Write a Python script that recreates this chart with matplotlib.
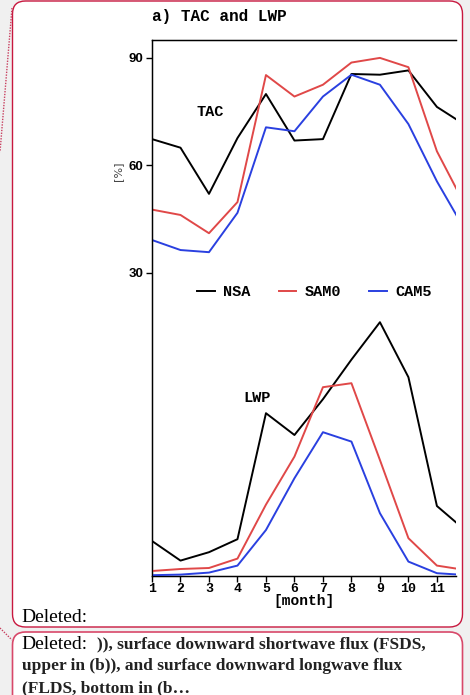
import matplotlib
matplotlib.use("Agg")
import matplotlib.pyplot as plt
from matplotlib.patches import FancyBboxPatch
from matplotlib.lines import Line2D

# ---------------- data ----------------
months = [1, 2, 3, 4, 5, 6, 7, 8, 9, 10, 11, 12]
month_ticks = [1, 2, 3, 4, 5, 6, 7, 8, 9, 10, 11]
tac_ticks = [30, 60, 90]

tac_nsa = [67.3, 64.9, 52.0, 67.6, 79.9, 66.9, 67.3, 85.5, 85.3, 86.5, 76.3, 71.2]
tac_samo = [47.6, 46.1, 41.0, 49.7, 85.2, 79.2, 82.5, 88.7, 90.0, 87.4, 63.9, 48.6]
tac_cam5 = [39.1, 36.3, 35.7, 46.7, 70.6, 69.5, 79.2, 85.3, 82.5, 71.5, 55.5, 41.7]

lwp_nsa = [17.5, 7.7, 11.9, 18.4, 81.4, 70.5, 88.4, 108.2, 126.9, 99.4, 35.0, 22.8]
lwp_samo = [2.5, 3.5, 4.0, 8.7, 35.7, 59.7, 94.4, 96.4, 58.0, 18.9, 5.2, 3.0]
lwp_cam5 = [0.4, 0.7, 1.7, 5.2, 23.0, 48.9, 71.9, 67.2, 31.4, 7.2, 1.4, 0.5]

series_names = ["NSA", "SAM0", "CAM5"]
series_colors = ["#000000", "#e04848", "#2a40e0"]

# ---------------- figure ----------------
W, H = 470, 695
fig = plt.figure(figsize=(W / 100, H / 100), dpi=100)
fig.patch.set_facecolor("#f0f0f0")

# background layer in pixel coordinates
bg = fig.add_axes([0, 0, 1, 1], zorder=-5)
bg.set_xlim(0, W)
bg.set_ylim(H, 0)
bg.axis("off")

border = "#c8183f"
box1 = FancyBboxPatch((12.5, 1), 450, 626, boxstyle="round,pad=0,rounding_size=13",
                      fc="white", ec=border, lw=1.0)
box2 = FancyBboxPatch((12.5, 632), 450, 90, boxstyle="round,pad=0,rounding_size=13",
                      fc="white", ec="#d8486a", lw=1.2)
bg.add_patch(box1)
bg.add_patch(box2)
bg.plot([12, 0], [8, 152], ls=(0, (1, 1)), color="#c84060", lw=1.0)
bg.plot([0, 12], [628, 640], ls=(0, (1, 1)), color="#c84060", lw=1.0)

bg.text(21.5, 617, "Deleted:", fontsize=14, family="Liberation Serif",
        va="center", ha="left", color="black")
bg.text(21.5, 644.5, "Deleted:", fontsize=14, family="Liberation Serif",
        va="center", ha="left", color="black")
bg.text(97, 644.5, ")), surface downward shortwave flux (FSDS,", fontsize=12.5,
        family="Liberation Serif", weight="bold", va="center", ha="left", color="#222222")
bg.text(21.5, 666.5, "upper in (b)), and surface downward longwave flux", fontsize=12.5,
        family="Liberation Serif", weight="bold", va="center", ha="left", color="#222222")
bg.text(21.5, 688, "(FLDS, bottom in (b\u2026", fontsize=12.5,
        family="Liberation Serif", weight="bold", va="center", ha="left", color="#222222")

# ---------------- main axes ----------------
left, right, top, bottom = 152, 456, 40, 576
ax = fig.add_axes([left / W, 1 - bottom / H, (right - left) / W, (bottom - top) / H])
ax.set_facecolor("none")
mono = "Liberation Mono"

for name, col, vals in zip(series_names, series_colors, [tac_nsa, tac_samo, tac_cam5]):
    ax.plot(months, vals, color=col, lw=1.4, label=name, clip_on=True)

ax.set_xlim(1, 11.67)
ax.set_ylim(-54.8, 95.0)
ax.spines["right"].set_visible(False)
for s in ["left", "top", "bottom"]:
    ax.spines[s].set_linewidth(1.0)
ax.set_yticks(tac_ticks)
ax.set_yticklabels([str(t) for t in tac_ticks], fontsize=9.5,
                   family="Liberation Sans", weight="bold")
ax.set_xticks(month_ticks)
ax.set_xticklabels([str(m) for m in month_ticks], fontsize=9.5, family=mono, weight="bold")
ax.tick_params(axis="both", direction="out", length=4, width=1.0, pad=2)
ax.tick_params(axis="x", pad=1)
ax.set_xlabel("[month]", fontsize=10.5, family=mono, weight="bold", labelpad=-1)

ax.text(-0.112, 0.755, "[%]", transform=ax.transAxes, rotation=90, fontsize=8,
        color="#444444", ha="center", va="center")
ax.text(0.19, 0.865, "TAC", transform=ax.transAxes, fontsize=11, family=mono,
        weight="bold", ha="center", va="center")
ax.text(0.346, 0.332, "LWP", transform=ax.transAxes, fontsize=11, family=mono,
        weight="bold", ha="center", va="center")

ax.text(0.0, 1.03, "a) TAC and LWP", transform=ax.transAxes, fontsize=11.5, family=mono,
        weight="bold", ha="left", va="bottom")

# LWP on a twin axis with hidden scale
ax2 = ax.twinx()
for name, col, vals in zip(series_names, series_colors, [lwp_nsa, lwp_samo, lwp_cam5]):
    ax2.plot(months, vals, color=col, lw=1.4)
ax2.set_ylim(0, 268)
ax2.set_yticks([])
ax2.spines["right"].set_visible(False)
ax2.set_xlim(1, 11.67)

handles = [Line2D([], [], color=c, lw=1.4) for c in series_colors]
leg = ax.legend(handles, series_names, ncol=3, frameon=False,
                loc="center left", bbox_to_anchor=((197 - left) / (right - left), (bottom - 292) / (bottom - top)),
                prop={"family": mono, "weight": "bold", "size": 11},
                handlelength=1.15, handletextpad=0.55, columnspacing=1.85,
                borderpad=0, borderaxespad=0)
leg.set_zorder(10)

fig.savefig("out.png", dpi=100, facecolor=fig.get_facecolor())
